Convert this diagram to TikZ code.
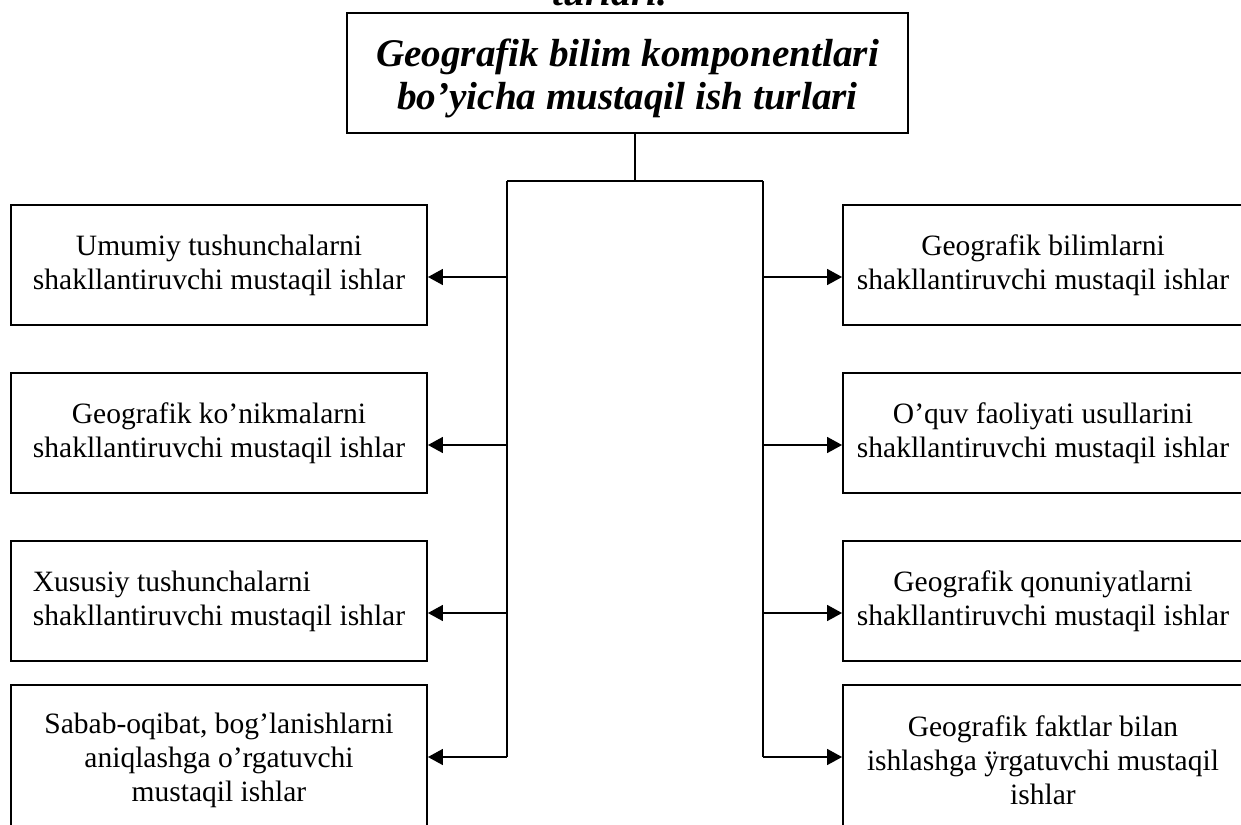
\documentclass[tikz,border=0pt]{standalone}
\usepackage{fontspec}
\setmainfont{Liberation Serif}
\usetikzlibrary{positioning,arrows.meta}
\tikzset{>={Triangle[length=8.5pt,width=9pt]}}
\tikzstyle{compbox}=[draw,line width=1.1pt,inner sep=0pt,
  font=\fontsize{16.8}{19.3}\selectfont]
\tikzstyle{titlefont}=[font=\fontsize{22.3}{24.4}\selectfont\bfseries\itshape]
\tikzstyle{titlebox}=[draw,line width=1.1pt,align=center,inner sep=0pt,titlefont]
\tikzstyle{bus}=[line width=1.1pt]
\tikzstyle{feed}=[->,line width=1.1pt]

\begin{document}
\begin{tikzpicture}[x=0.02cm,y=-0.02cm]
  \def\xL{219}
  \def\xR{1043}
  \def\xBL{507}
  \def\xBR{763}
  \def\yBus{181}

  \useasboundingbox (0,0) rectangle (1241,825);
  \clip (0,0) rectangle (1241,825);

  % TITLE
  \node[anchor=base,titlefont] (over) at (610,5) {turlari.};
  \node[titlebox,minimum width=11.22cm,minimum height=2.4cm]
    (title) at (627.5,73)
    {\rule{0pt}{1em}Geografik bilim komponentlari\\bo’yicha mustaqil ish turlari};

  % BUS LINES
  \coordinate (stem) at (635,\yBus);
  \coordinate (busL) at (\xBL,\yBus);
  \coordinate (busR) at (\xBR,\yBus);
  \draw[bus] (stem |- title.south) -- (stem);
  \draw[bus] (busL) -- (busR);

  % LEFT COLUMN
  \foreach \i/\yc/\ya/\h/\al/\txt in {
      1/265/277/2.4cm/center/{Umumiy tushunchalarni\\shakllantiruvchi mustaqil ishlar},
      2/433/445/2.4cm/center/{Geografik ko’nikmalarni\\shakllantiruvchi mustaqil ishlar},
      3/601/613/2.4cm/left/{Xususiy tushunchalarni\\shakllantiruvchi mustaqil ishlar},
      4/760/757/3cm/center/{Sabab-oqibat, bog’lanishlarni\\aniqlashga o’rgatuvchi\\mustaqil ishlar}}{
    \node[compbox,align=\al,minimum width=8.32cm,minimum height=\h]
      (L\i) at (\xL,\yc) {\txt};
    \coordinate (tapL\i) at (\xBL,\ya);
    \draw[feed] (tapL\i) -- (tapL\i -| L\i.east);
  }
  \draw[bus] (busL) -- (tapL4);

  % RIGHT COLUMN
  \foreach \i/\yc/\ya/\h/\txt in {
      1/265/277/2.4cm/{Geografik bilimlarni\\shakllantiruvchi mustaqil ishlar},
      2/433/445/2.4cm/{O’quv faoliyati usullarini\\shakllantiruvchi mustaqil ishlar},
      3/601/613/2.4cm/{Geografik qonuniyatlarni\\shakllantiruvchi mustaqil ishlar},
      4/760/757/3cm/{Geografik faktlar bilan\\ishlashga ÿrgatuvchi mustaqil\\ishlar}}{
    \node[compbox,align=center,minimum width=8cm,minimum height=\h]
      (R\i) at (\xR,\yc) {\txt};
    \coordinate (tapR\i) at (\xBR,\ya);
    \draw[feed] (tapR\i) -- (tapR\i -| R\i.west);
  }
  \draw[bus] (busR) -- (tapR4);

\end{tikzpicture}
\end{document}
